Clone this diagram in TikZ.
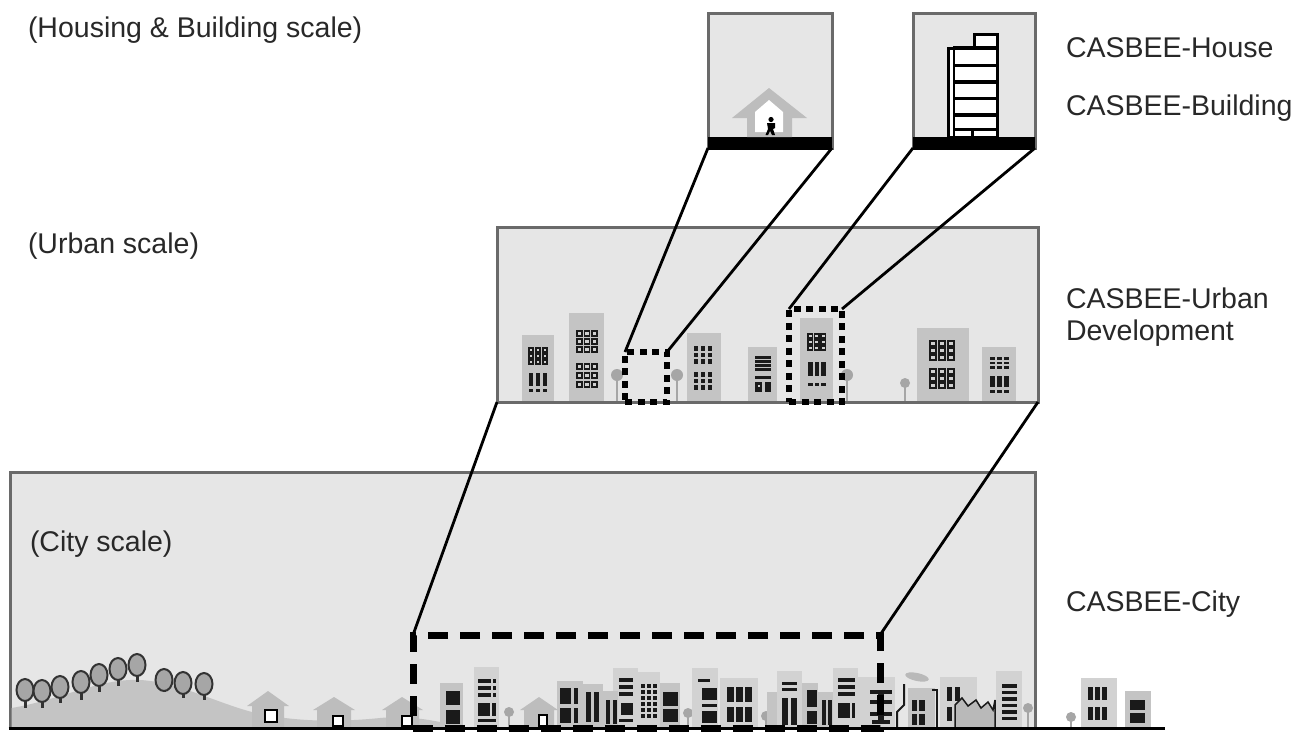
\documentclass[tikz,border=0pt]{standalone}
\usepackage{fontspec}
\setmainfont{Liberation Sans}
\definecolor{panelfill}{HTML}{E6E6E6}
\definecolor{panelgray}{HTML}{6A6A6A}
\definecolor{bfill}{HTML}{C4C4C4}
\definecolor{bfilllt}{HTML}{D2D2D2}
\definecolor{bwin}{HTML}{D0D0D0}
\definecolor{hillc}{HTML}{C4C4C4}
\definecolor{treec}{HTML}{A6A6A6}
\definecolor{winc}{HTML}{1A1A1A}
\definecolor{housec}{HTML}{BDBDBD}
\definecolor{textgray}{HTML}{282828}
\begin{document}
\begin{tikzpicture}[x=1pt,y=-1pt,
  panel/.style={draw=panelgray,line width=3pt,fill=panelfill,inner sep=0pt,outer sep=0pt},
  zoomsmall/.style={draw=black,line width=6pt,dash pattern=on 7pt off 5.5pt,inner sep=0pt,outer sep=0pt},
  zoombig/.style={draw=black,line width=7pt,dash pattern=on 20pt off 12pt,inner sep=0pt,outer sep=0pt},
  link/.style={draw=black,line width=2.8pt},
  lbl/.style={anchor=base west,inner sep=0pt,outer sep=0pt,text=textgray,font=\fontsize{28.5pt}{34pt}\selectfont},
  win/.style={fill=winc},
  hwin/.style={draw=winc,line width=1.6pt,fill=bwin},
  tree/.style={draw=black!80,line width=2pt,fill=treec},
]
\useasboundingbox (0,0) rectangle (1308,731);
\fill[white] (0,0) rectangle (1308,731);

% ---------- panels ----------
\node[panel,minimum width=124pt,minimum height=135pt] (hbox) at (770,80.5) {};
\node[panel,minimum width=122pt,minimum height=135pt] (bbox) at (974,80.5) {};
\node[panel,minimum width=541pt,minimum height=175pt] (ubox) at (767.5,314.5) {};
\node[panel,minimum width=1025pt,minimum height=256pt] (cbox) at (522.5,600) {};

% ---------- house panel ----------
\fill[black] (708,137) rectangle (832,149.5);
\fill[housec] (732,118) -- (769,88) -- (807,118) -- (792,118) -- (792,137) -- (747,137) -- (747,118) -- cycle;
\fill[white] (755,132) -- (755,112) -- (769,100) -- (783,112) -- (783,132) -- cycle;
\fill[black] (771,119.5) circle (2.6);
\fill[black] (767,123) -- (775,123) -- (775,128) -- (773,129) -- (775,135) -- (772,135) -- (770,131) -- (768,135) -- (765.5,135) -- (768,129) -- cycle;

% ---------- building panel ----------
\fill[black] (913,137) rectangle (1035,149.5);
\draw[black,line width=3pt,fill=white] (948,48) rectangle (997,137);
\draw[black,line width=3pt,fill=white] (974,34) rectangle (997,48);
\foreach \yy in {48,65.5,82,98.5,115,129.5}{\draw[black,line width=3.4pt] (953,\yy) -- (997,\yy);}
\draw[black,line width=2pt] (953.5,48) -- (953.5,137);
\draw[black,line width=3pt] (972,129) -- (972,137);

% ---------- urban panel contents ----------
\foreach \xx/\yy/\rr in {617/375/6,677/375/6,847/375/6,905/383/5}{
  \draw[treec,line width=2pt] (\xx,\yy) -- (\xx,400.5);
  \fill[treec] (\xx,\yy) circle (\rr);}
% U1
\fill[bfill] (522,335) rectangle (554,400.5);
\foreach \i in {0,1,2}{\foreach \j in {0,1,2}{\draw[hwin] (529+7*\i,348+6*\j) rectangle ++(4,4);}}
\foreach \i in {0,1,2}{\fill[win] (529+7*\i,373) rectangle ++(4,13); \fill[win] (529+7*\i,389) rectangle ++(4,3);}
% U2
\fill[bfill] (569,313) rectangle (604,400.5);
\foreach \i in {0,1,2}{\foreach \j in {0,1,2}{\draw[hwin] (577+7.5*\i,331+8*\j) rectangle ++(5,5); \draw[hwin] (577+7.5*\i,364+9*\j) rectangle ++(5,5);}}
% U3
\fill[bfill] (687,333) rectangle (721,400.5);
\foreach \i in {0,1,2}{\foreach \j in {0,1,2}{\fill[win] (694+7*\i,346+6.5*\j) rectangle ++(4,4.5); \fill[win] (694+7*\i,372+6.5*\j) rectangle ++(4,4.5);}}
% U4
\fill[bfill] (748,347) rectangle (777,400.5);
\foreach \j in {0,1,2,3}{\fill[win] (755,356+4*\j) rectangle ++(16,2.5);}
\fill[win] (755,376) rectangle (771,379);
\fill[win] (755,382) rectangle (762,392); \fill[win] (765,382) rectangle (771,392);
\fill[bwin] (758,385) rectangle ++(2,2);
% U5
\fill[bfill] (800,318) rectangle (833,400.5);
\foreach \i in {0,1,2}{\foreach \j in {0,1,2}{\draw[hwin] (808+6.5*\i,334+6*\j) rectangle ++(4.5,4);}
  \fill[win] (808+6.5*\i,362) rectangle ++(4.5,14); \fill[win] (808+6.5*\i,383) rectangle ++(4.5,3);}
% U6
\fill[bfill] (917,328) rectangle (969,400.5);
\foreach \i in {0,1,2}{\foreach \j in {0,1,2}{\draw[hwin] (930+9*\i,341+7*\j) rectangle ++(6,5); \draw[hwin] (930+9*\i,369+7*\j) rectangle ++(6,5);}}
% U7
\fill[bfill] (982,347) rectangle (1016,400.5);
\foreach \i in {0,1,2}{\foreach \j in {0,1,2}{\fill[win] (990+7*\i,357+4.5*\j) rectangle ++(5,2.5);}
  \fill[win] (990+7*\i,376) rectangle ++(5,11); \fill[win] (990+7*\i,390) rectangle ++(5,3);}

% ---------- city panel contents ----------
\fill[hillc] (11.5,728) -- (11.5,708) .. controls (60,700) and (100,678) .. (140,680) .. controls (180,682) and (220,705) .. (260,714) .. controls (300,722) and (340,722) .. (380,718) .. controls (400,716) and (420,718) .. (440,722) -- (440,728) -- cycle;
\foreach \xx/\yy/\bb in {25/690/708,42/691/708,60/687/703,81/682/700,99/675/692,118/669/686,137/665/682,164/680/692,183/683/698,204/684/700}{
  \draw[black!80,line width=3pt] (\xx,\yy) -- (\xx,\bb);
  \draw[tree] (\xx,\yy) ellipse (8.5 and 11);}
% houses
\fill[housec] (247,706) -- (268,691) -- (289,706) -- (284,706) -- (284,728) -- (252,728) -- (252,706) -- cycle;
\draw[black,line width=1.8pt,fill=white] (265,710) rectangle (277,722);
\fill[housec] (313,710) -- (334,697) -- (355,710) -- (351,710) -- (351,728) -- (317,728) -- (317,710) -- cycle;
\draw[black,line width=1.8pt,fill=white] (333,716) rectangle (343,726);
\fill[housec] (382,710) -- (402,697) -- (423,710) -- (419,710) -- (419,728) -- (386,728) -- (386,710) -- cycle;
\draw[black,line width=1.8pt,fill=white] (402,716) rectangle (412,726);
% small trees in city
\foreach \xx/\yy in {509/712,688/713,766/716,1028/708,1071/717}{
  \draw[treec,line width=2pt] (\xx,\yy) -- (\xx,728);
  \fill[treec] (\xx,\yy) circle (5);}
% buildings (back, lighter)
\foreach \xa/\ya/\xb in {474/667/499,613/668/638,638/672/660,692/668/718,720/678/758,777/671/802,833/668/858,858/677/895,940/677/977,996/671/1022,1081/678/1117}{
  \fill[bfilllt] (\xa,\ya) rectangle (\xb,727);}
% buildings (front, darker)
\foreach \xa/\ya/\xb in {440/683/463,557/681/583,583/684/603,603/691/618,660/683/680,767/692/777,802/683/818,818/692/833,908/688/935,1125/691/1151}{
  \fill[bfill] (\xa,\ya) rectangle (\xb,727);}
\fill[housec] (520,710) -- (539,697) -- (558,710) -- (554,710) -- (554,728) -- (524,728) -- (524,710) -- cycle;
\draw[black,line width=1.8pt,fill=white] (539,715) rectangle (547,726);
% windows
\fill[win] (446,691) rectangle (460,705); \fill[win] (446,710) rectangle (460,724);
\foreach \yy in {679,686,693}{\fill[win] (478,\yy) rectangle (491,\yy+4); \fill[win] (493,\yy) rectangle (496,\yy+4);}
\fill[win] (478,703) rectangle (490,716); \fill[win] (492,703) rectangle (496,716); \fill[win] (478,719) rectangle (496,722);
\fill[win] (560,688) rectangle (571,704); \fill[win] (574,688) rectangle (578,704);
\fill[win] (560,708) rectangle (571,723); \fill[win] (574,708) rectangle (578,723);
\fill[win] (586,692) rectangle (591,722); \fill[win] (594,692) rectangle (599,722);
\fill[win] (606,700) rectangle (610,724); \fill[win] (613,700) rectangle (617,724);
\foreach \yy in {678,685,692}{\fill[win] (619,\yy) rectangle (633,\yy+4);}
\fill[win] (621,703) rectangle (633,715); \fill[win] (619,719) rectangle (633,722);
\foreach \i in {0,1,2}{\foreach \j in {0,...,5}{\fill[win] (641+6*\i,684+6*\j) rectangle ++(4,4);}}
\fill[win] (663,692) rectangle (678,706); \fill[win] (663,709) rectangle (678,722);
\fill[win] (698,679) rectangle (710,682); \fill[win] (702,688) rectangle (717,700);
\fill[win] (702,704) rectangle (717,707); \fill[win] (702,711) rectangle (717,723);
\foreach \i in {0,1,2}{\foreach \j in {0,1}{\fill[win] (727+9*\i,687+20*\j) rectangle ++(7,15);}}
\fill[win] (782,682) rectangle (797,685); \fill[win] (782,688) rectangle (797,691);
\fill[win] (782,698) rectangle (788,725); \fill[win] (791,698) rectangle (797,725);
\fill[win] (807,690) rectangle (817,707); \fill[win] (807,711) rectangle (817,724);
\fill[win] (822,700) rectangle (826,725); \fill[win] (828,700) rectangle (832,725);
\foreach \yy in {678,685,692}{\fill[win] (838,\yy) rectangle (855,\yy+4);}
\fill[win] (838,703) rectangle (850,718); \fill[win] (852,703) rectangle (855,718);
\fill[win] (870,690) rectangle (892,694); \fill[win] (878,694) rectangle (884,722);
\fill[win] (870,700) rectangle (892,704); \fill[win] (870,712) rectangle (892,716); \fill[win] (872,720) rectangle (890,724);
\fill[win] (912,700) rectangle (917,711); \fill[win] (919,700) rectangle (925,711);
\fill[win] (912,714) rectangle (917,725); \fill[win] (919,714) rectangle (925,725);
\fill[win] (947,687) rectangle (952,701); \fill[win] (955,687) rectangle (960,701);
\fill[win] (947,707) rectangle (952,721); \fill[win] (955,707) rectangle (960,721);
\foreach \j in {0,...,5}{\fill[win] (1002,684+6.5*\j) rectangle ++(15,3.5);}
\foreach \i in {0,1,2}{\foreach \j in {0,1}{\fill[win] (1088+7*\i,687+20*\j) rectangle ++(5,13);}}
\fill[win] (1130,700) rectangle (1145,710); \fill[win] (1130,713) rectangle (1145,723);
% factory
\fill[gray!55,rotate around={-12:(917,677)}] (917,677) ellipse (12 and 4);
\draw[winc,line width=2pt] (897,728) -- (897,712) -- (904,705) -- (904,684);
\draw[winc,line width=2pt] (932,690) -- (937,690) -- (937,728);
\draw[draw=winc,fill=gray!55,line width=1.5pt] (955,728) -- (955,705) -- (962,698) -- (968,706) -- (976,700) -- (981,708) -- (988,702) -- (993,710) -- (995,700) -- (995,728) -- cycle;

% ---------- ground ----------
\coordinate (g0) at (8.5,728);
\coordinate (g1) at (1165,728);
\draw[black,line width=3pt] (g0) -- (g1);

% ---------- zoom frames ----------
\node[zoomsmall,minimum width=42pt,minimum height=50pt] (zs1) at (646,377) {};
\node[zoomsmall,minimum width=53pt,minimum height=93pt] (zs2) at (815.5,355.5) {};
\node[zoombig,minimum width=467pt,minimum height=93pt] (zb) at (646.5,681.5) {};

% ---------- connectors ----------
\draw[link] (hbox.south west) -- (zs1.north west);
\draw[link] (hbox.south east) -- (zs1.north east);
\draw[link] (bbox.south west) -- (zs2.north west);
\draw[link] (bbox.south east) -- (zs2.north east);
\draw[link] (ubox.south west) -- (zb.north west);
\draw[link] (ubox.south east) -- (zb.north east);

% ---------- labels ----------
\node[lbl] (lHB) at (28,37) {(Housing \& Building scale)};
\node[lbl] (lHouse) at (1066,57) {CASBEE-House};
\node[lbl] (lBuilding) at (1066,115) {CASBEE-Building};
\node[lbl] (lUS) at (28,253) {(Urban scale)};
\node[lbl] (lU1) at (1066,308) {CASBEE-Urban};
\node[lbl] (lU2) at (1066,340) {Development};
\node[lbl] (lCS) at (30,551) {(City scale)};
\node[lbl] (lCity) at (1066,611) {CASBEE-City};
\end{tikzpicture}
\end{document}
